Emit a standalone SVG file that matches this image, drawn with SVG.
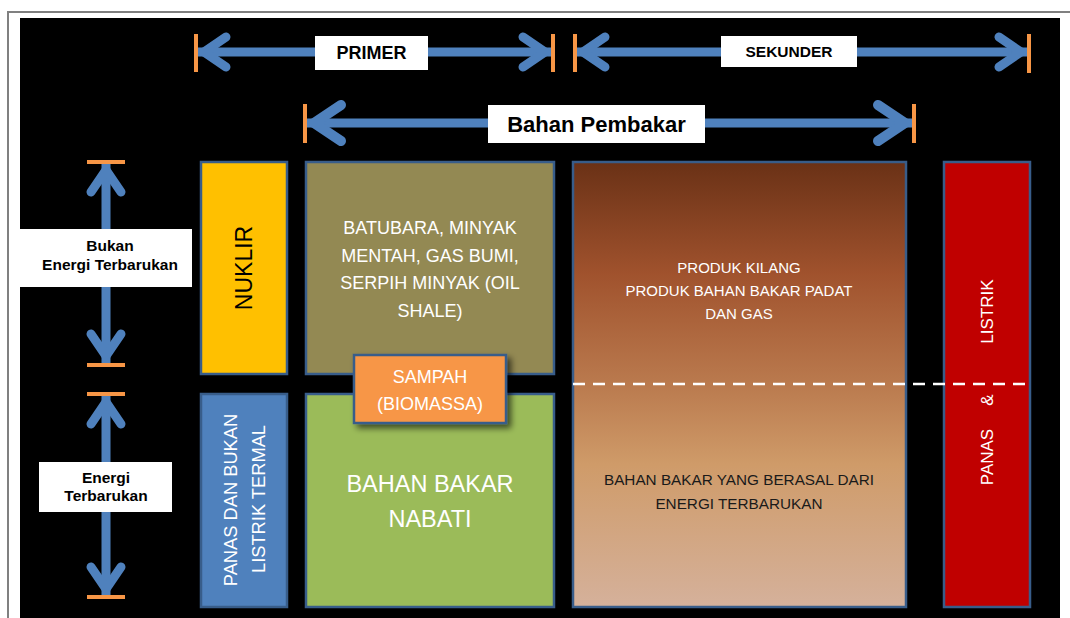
<svg xmlns="http://www.w3.org/2000/svg" width="1070" height="618" viewBox="0 0 1070 618">
<defs>
<style>
.lbl{font-family:"Liberation Sans",Arial,sans-serif;font-weight:bold;fill:#000;text-anchor:middle}
.bx{font-family:"Liberation Sans",Arial,sans-serif;text-anchor:middle}
.node{stroke:#385D8A;stroke-width:2.5}
.shaft{stroke:#4F81BD;stroke-width:9;fill:none}
.tick{stroke:#F79646;stroke-width:4}
</style>
<marker id="chev" markerUnits="userSpaceOnUse" markerWidth="40" markerHeight="40" viewBox="-40 -20 40 40" refX="0" refY="0" orient="auto-start-reverse" overflow="visible">
<path d="M -30 -15 L -8 0 L -30 15" fill="none" stroke="#4F81BD" stroke-width="9" stroke-linecap="round" stroke-linejoin="miter"/>
</marker>
<marker id="chevL" markerUnits="userSpaceOnUse" markerWidth="50" markerHeight="50" viewBox="-50 -25 50 50" refX="0" refY="0" orient="auto-start-reverse" overflow="visible">
<path d="M -36 -18 L -9 0 L -36 18" fill="none" stroke="#4F81BD" stroke-width="10" stroke-linecap="round" stroke-linejoin="miter"/>
</marker>
<linearGradient id="brown" x1="0" y1="0" x2="0" y2="1">
<stop offset="0" stop-color="#6A3116"/>
<stop offset="0.25" stop-color="#A0522D"/>
<stop offset="0.5" stop-color="#BA7A4E"/>
<stop offset="0.68" stop-color="#CF9B69"/>
<stop offset="1" stop-color="#D5B19B"/>
</linearGradient>
<filter id="shadow" x="-20%" y="-20%" width="150%" height="160%">
<feGaussianBlur in="SourceAlpha" stdDeviation="3"/>
<feOffset dx="4" dy="4" result="b"/>
<feComponentTransfer><feFuncA type="linear" slope="0.6"/></feComponentTransfer>
<feMerge><feMergeNode/><feMergeNode in="SourceGraphic"/></feMerge>
</filter>
</defs>
<rect x="0" y="0" width="1070" height="618" fill="#FFFFFF"/>
<path d="M 8 618 L 8 12 L 1070 12" fill="none" stroke="#808080" stroke-width="2"/>
<rect x="20" y="18" width="1040" height="600" fill="#000000"/>

<g id="connectors">
<line class="shaft" x1="196" y1="52" x2="553" y2="52" marker-start="url(#chev)" marker-end="url(#chev)"/>
<line class="shaft" x1="575" y1="52" x2="1029" y2="52" marker-start="url(#chev)" marker-end="url(#chev)"/>
<line class="shaft" x1="305" y1="123" x2="914" y2="123" marker-start="url(#chevL)" marker-end="url(#chevL)"/>
<line class="shaft" x1="106" y1="162" x2="106" y2="364" marker-start="url(#chev)" marker-end="url(#chev)"/>
<line class="shaft" x1="106" y1="394" x2="106" y2="597" marker-start="url(#chev)" marker-end="url(#chev)"/>
<line class="tick" x1="196" y1="34" x2="196" y2="72"/>
<line class="tick" x1="553" y1="34" x2="553" y2="72"/>
<line class="tick" x1="575" y1="34" x2="575" y2="72"/>
<line class="tick" x1="1029" y1="34" x2="1029" y2="73"/>
<line class="tick" x1="305" y1="104" x2="305" y2="143"/>
<line class="tick" x1="914" y1="104" x2="914" y2="143"/>
<line class="tick" x1="87" y1="162" x2="125" y2="162"/>
<line class="tick" x1="87" y1="365" x2="125" y2="365"/>
<line class="tick" x1="87" y1="394" x2="125" y2="394"/>
<line class="tick" x1="87" y1="597" x2="125" y2="597"/>
</g>

<g id="label-primer">
<rect x="315" y="36" width="113" height="34" fill="#FFFFFF"/>
<text class="lbl" x="371.5" y="59" font-size="18">PRIMER</text>
</g>
<g id="label-sekunder">
<rect x="721" y="36" width="136" height="31" fill="#FFFFFF"/>
<text class="lbl" x="789" y="57" font-size="15.5">SEKUNDER</text>
</g>
<g id="label-bahan-pembakar">
<rect x="488" y="105" width="217" height="38" fill="#FFFFFF"/>
<text class="lbl" x="596.5" y="131.5" font-size="22">Bahan Pembakar</text>
</g>
<g id="label-bukan-et">
<rect x="20" y="229" width="172" height="58" fill="#FFFFFF"/>
<text class="lbl" font-size="15.5"><tspan x="110" y="250.5">Bukan</tspan><tspan x="110" y="269.5">Energi Terbarukan</tspan></text>
</g>
<g id="label-et">
<rect x="39" y="462" width="133" height="50" fill="#FFFFFF"/>
<text class="lbl" font-size="15.5"><tspan x="106" y="482.5">Energi</tspan><tspan x="106" y="501">Terbarukan</tspan></text>
</g>

<g id="nuklir">
<rect class="node" x="201" y="162" width="86" height="212" fill="#FFC000"/>
<text class="bx" transform="translate(252,268) rotate(-90)" font-size="23" fill="#000000">NUKLIR</text>
</g>
<g id="panas-bukan-listrik">
<rect class="node" x="201" y="394" width="86" height="213" fill="#4F81BD"/>
<text class="bx" transform="translate(236.5,500) rotate(-90)" font-size="18.3" fill="#FFFFFF">PANAS DAN BUKAN</text>
<text class="bx" transform="translate(264.5,499) rotate(-90)" font-size="18.3" fill="#FFFFFF">LISTRIK TERMAL</text>
</g>
<g id="fosil">
<rect class="node" x="306" y="162" width="248" height="212" fill="#938953"/>
<text class="bx" font-size="18" fill="#FFFFFF"><tspan x="430" y="234">BATUBARA, MINYAK</tspan><tspan x="430" y="261.5">MENTAH, GAS BUMI,</tspan><tspan x="430" y="289">SERPIH MINYAK (OIL</tspan><tspan x="430" y="316.5">SHALE)</tspan></text>
</g>
<g id="nabati">
<rect class="node" x="306" y="394" width="248" height="213" fill="#9BBB59"/>
<text class="bx" font-size="23.5" fill="#FFFFFF"><tspan x="430" y="491.5">BAHAN BAKAR</tspan><tspan x="430" y="526.5">NABATI</tspan></text>
</g>
<g id="sampah">
<rect class="node" x="354" y="355" width="152" height="68" fill="#F79646" stroke-width="3" filter="url(#shadow)"/>
<text class="bx" font-size="18" fill="#FFFFFF"><tspan x="430" y="383">SAMPAH</tspan><tspan x="430" y="410">(BIOMASSA)</tspan></text>
</g>
<g id="produk">
<rect class="node" x="573" y="162" width="333" height="445" fill="url(#brown)"/>
<text class="bx" font-size="15" fill="#FFFFFF"><tspan x="739" y="272.5">PRODUK KILANG</tspan><tspan x="739" y="295.5">PRODUK BAHAN BAKAR PADAT</tspan><tspan x="739" y="318.5">DAN GAS</tspan></text>
<text class="bx" font-size="15.3" fill="#1A1A1A"><tspan x="739" y="484.5">BAHAN BAKAR YANG BERASAL DARI</tspan><tspan x="739" y="508.5">ENERGI TERBARUKAN</tspan></text>
</g>
<g id="listrik">
<rect class="node" x="944" y="162" width="86" height="445" fill="#C00000"/>
<text class="bx" transform="translate(993,311.5) rotate(-90)" font-size="17" fill="#FFFFFF">LISTRIK</text>
<text class="bx" transform="translate(993,400) rotate(-90)" font-size="17" fill="#FFFFFF">&amp;</text>
<text class="bx" transform="translate(993,457) rotate(-90)" font-size="17" fill="#FFFFFF">PANAS</text>
</g>
<g id="divider">
<line x1="573" y1="384" x2="1027" y2="384" stroke="#FFFFFF" stroke-width="2.5" stroke-dasharray="12 8"/>
</g>
</svg>
